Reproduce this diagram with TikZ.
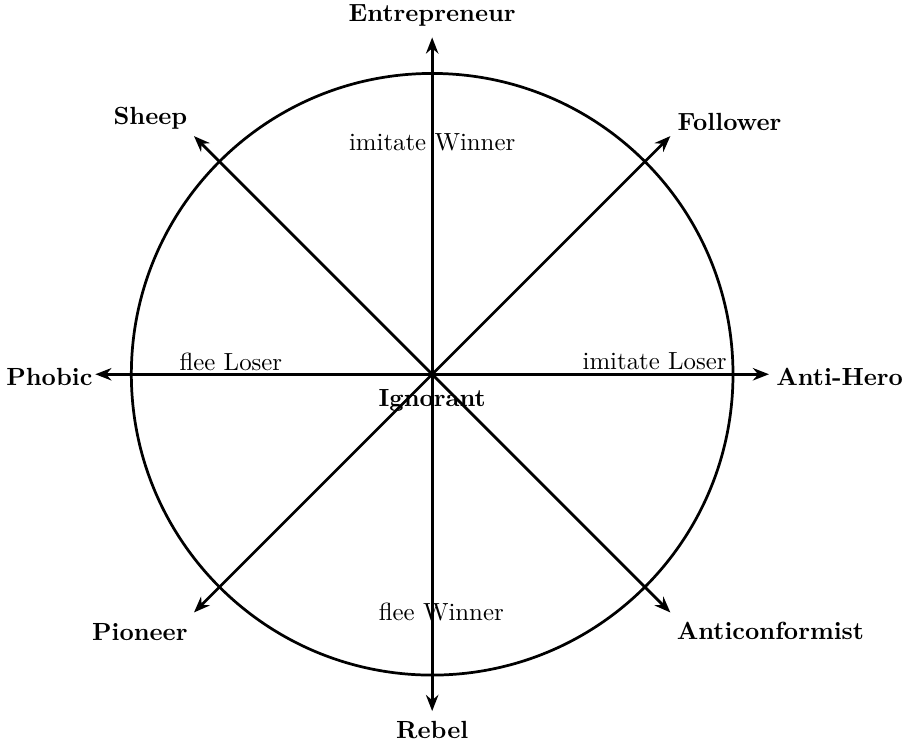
\documentclass[tikz,border=0pt]{standalone}
\usetikzlibrary{arrows.meta}

\begin{document}
\begin{tikzpicture}[axis/.style={-{Stealth[length=6.5pt,width=5pt]}, line width=1.1pt}, role/.style={font=\bfseries}]
\useasboundingbox (-6.12,-5.21) rectangle (6.71,5.30);
\coordinate (o) at (0,0);
\draw[line width=1.1pt] (o) circle (4.26);
% eight directions out of the centre
\foreach \a/\t in {90/up, 45/upright, 0/right, -45/downright, -90/down, -135/downleft, 180/left, 135/upleft} {
  \coordinate (\t) at (\a:4.77);
  \draw[axis] (o) -- (\t);
}
\node[role] (entrepreneur) at (0,5.08) {Entrepreneur};
\node[role] (sheep) at (-3.99,3.63) {Sheep};
\node[role] (follower) at (4.21,3.57) {Follower};
\node[role] (phobic) at (-5.42,-0.04) {Phobic};
\node[role] (antihero) at (5.77,-0.04) {Anti-Hero};
\node[role] (pioneer) at (-4.14,-3.65) {Pioneer};
\node[role] (anticonf) at (4.79,-3.63) {Anticonformist};
\node[role] (rebel) at (0,-5.04) {Rebel};
\node[role] (ignorant) at (0,-0.37) {Ignorant};
\node (imwin) at (0,3.29) {imitate Winner};
\node (flwin) at (0.13,-3.37) {flee Winner};
\node (flloser) at (-2.85,0.18) {flee Loser};
\node (imloser) at (3.15,0.18) {imitate Loser};
\end{tikzpicture}
\end{document}
